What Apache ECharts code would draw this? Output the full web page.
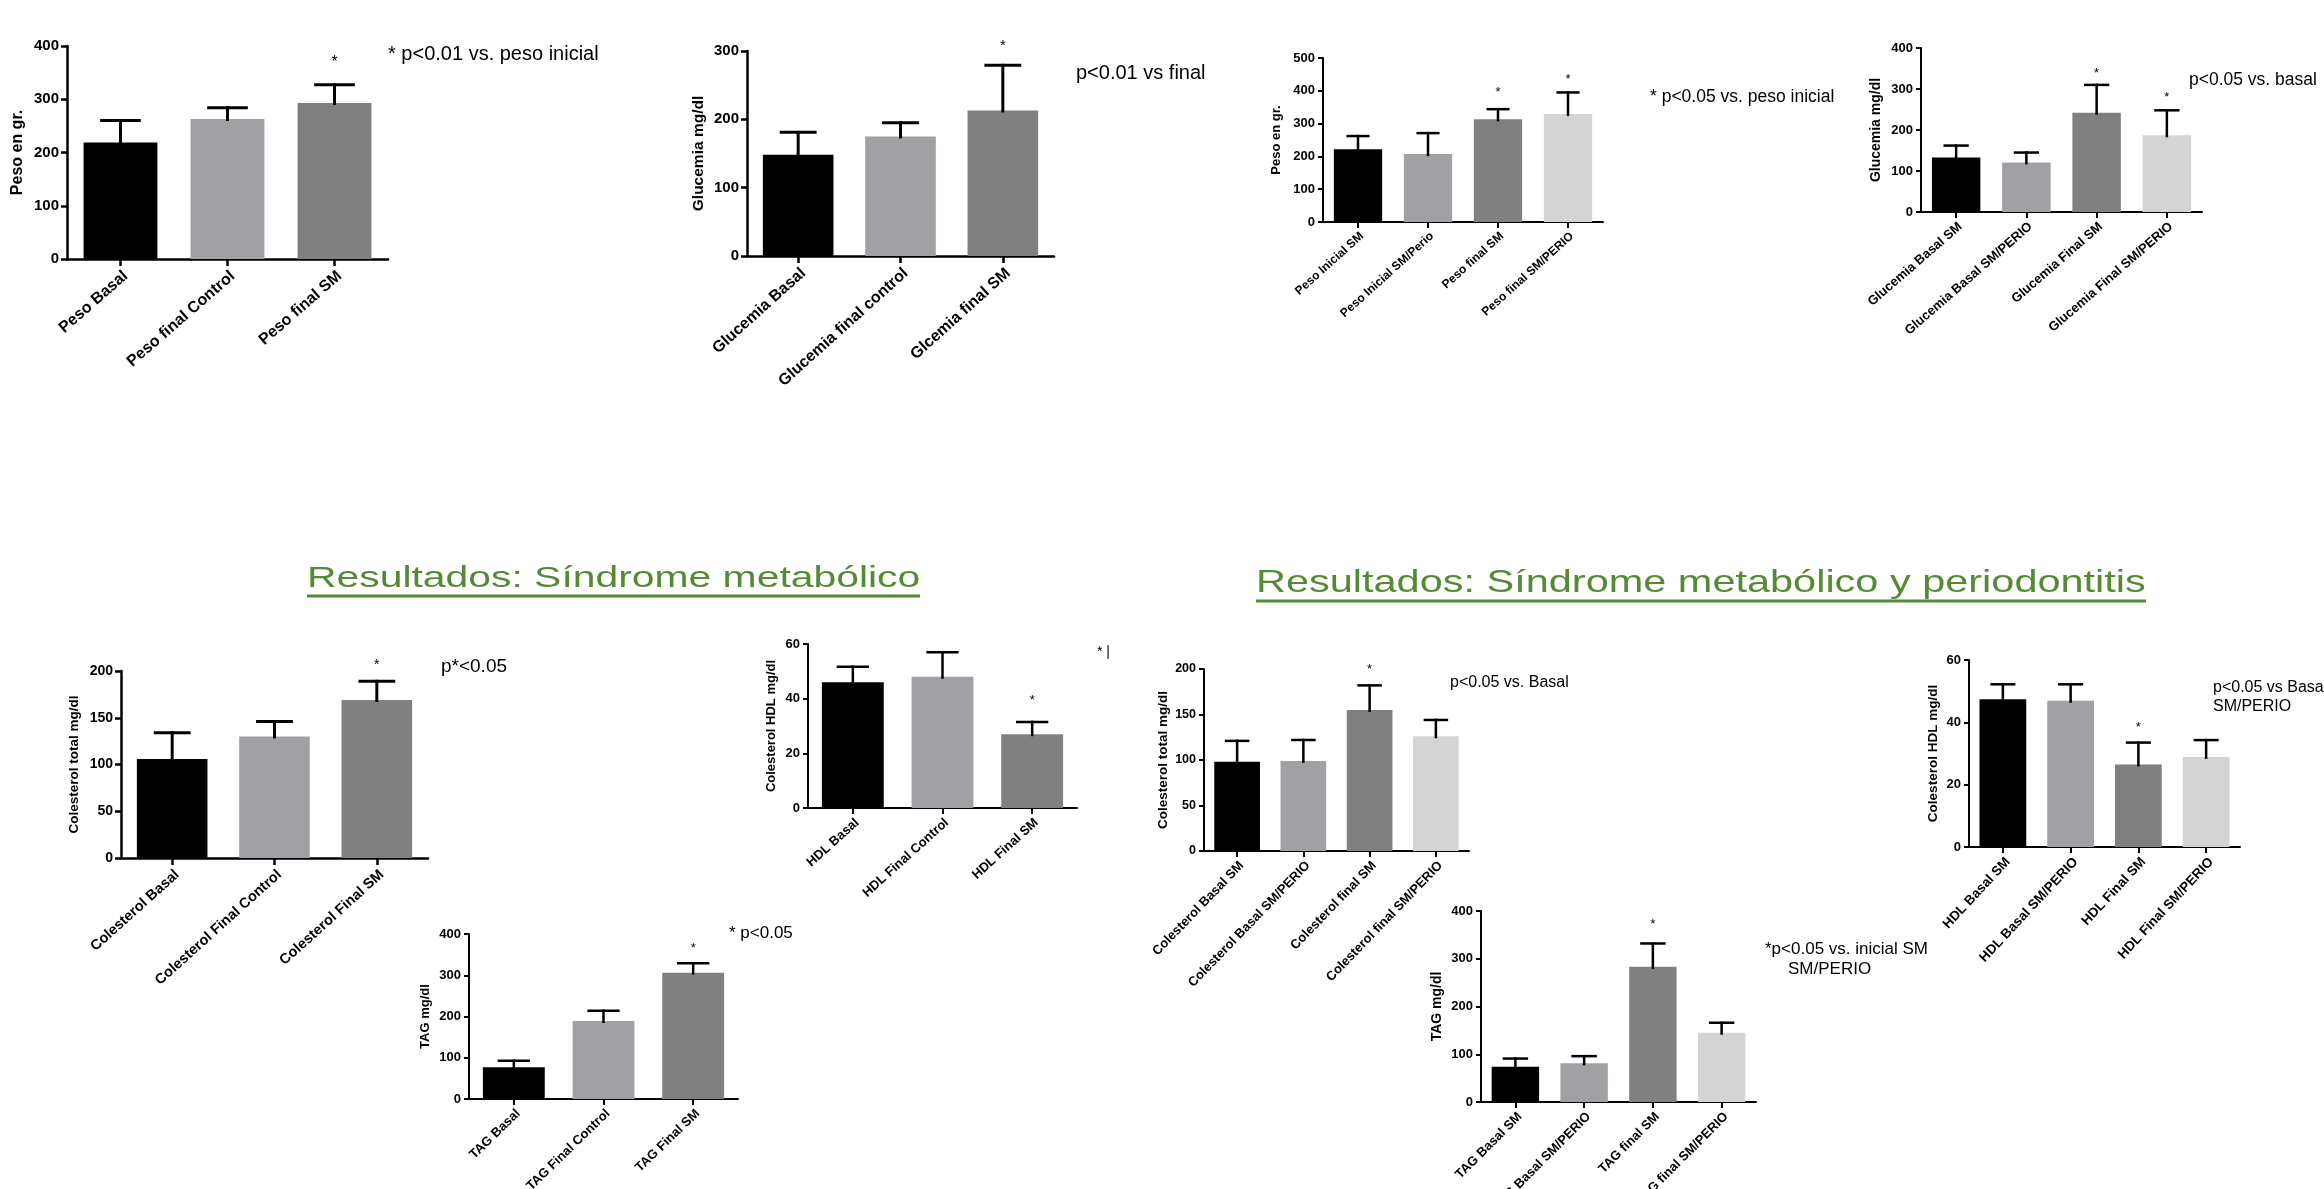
<!DOCTYPE html>
<html><head><meta charset="utf-8">
<script src="https://cdn.jsdelivr.net/npm/echarts@6/dist/echarts.min.js"></script>
<style>html,body{margin:0;padding:0;background:#fff;overflow:hidden}#c{width:2324px;height:1189px}</style>
</head><body><div id="c"></div>
<script>
// ---------- DATA ----------
const c1Categories = ['Peso Basal', 'Peso final Control', 'Peso final SM'];
const c1Means = [219, 263, 293];
const c1Errors = [41, 21, 34];
const c1Stars = [null, null, 377];
const c1Ticks = [0, 100, 200, 300, 400];
const c1YTitle = 'Peso en gr.';

const c2Categories = ['Glucemia Basal', 'Glucemia final control', 'Glcemia final SM'];
const c2Means = [148, 175, 213];
const c2Errors = [33, 20, 66];
const c2Stars = [null, null, 313];
const c2Ticks = [0, 100, 200, 300];
const c2YTitle = 'Glucemia mg/dl';

const c3Categories = ['Peso Inicial SM', 'Peso Inicial SM/Perio', 'Peso final SM', 'Peso final SM/PERIO'];
const c3Means = [222, 207, 313, 329];
const c3Errors = [40, 64, 31, 66];
const c3Stars = [null, null, 405, 444];
const c3Ticks = [0, 100, 200, 300, 400, 500];
const c3YTitle = 'Peso en gr.';

const c4Categories = ['Glucemia Basal SM', 'Glucemia Basal SM/PERIO', 'Glucemia Final SM', 'Glucemia Final SM/PERIO'];
const c4Means = [133, 121, 242, 187];
const c4Errors = [29, 24, 68, 61];
const c4Stars = [null, null, 347, 288];
const c4Ticks = [0, 100, 200, 300, 400];
const c4YTitle = 'Glucemia mg/dl';

const c5Categories = ['Colesterol Basal', 'Colesterol Final Control', 'Colesterol Final SM'];
const c5Means = [106, 130, 169];
const c5Errors = [28, 16, 20];
const c5Stars = [null, null, 210];
const c5Ticks = [0, 50, 100, 150, 200];
const c5YTitle = 'Colesterol total mg/dl';

const c6Categories = ['HDL Basal', 'HDL Final Control', 'HDL Final SM'];
const c6Means = [46, 48, 27];
const c6Errors = [5.7, 9, 4.5];
const c6Stars = [null, null, 40.4];
const c6Ticks = [0, 20, 40, 60];
const c6YTitle = 'Colesterol HDL mg/dl';

const c7Categories = ['TAG Basal', 'TAG Final Control', 'TAG Final SM'];
const c7Means = [77, 189, 306];
const c7Errors = [16, 25, 23];
const c7Stars = [null, null, 374];
const c7Ticks = [0, 100, 200, 300, 400];
const c7YTitle = 'TAG mg/dl';

const c8Categories = ['Colesterol Basal SM', 'Colesterol Basal SM/PERIO', 'Colesterol final SM', 'Colesterol final SM/PERIO'];
const c8Means = [98, 99, 155, 126];
const c8Errors = [23, 23, 27, 18];
const c8Stars = [null, null, 203, null];
const c8Ticks = [0, 50, 100, 150, 200];
const c8YTitle = 'Colesterol total mg/dl';

const c9Categories = ['HDL Basal SM', 'HDL Basal SM/PERIO', 'HDL Final SM', 'HDL Final SM/PERIO'];
const c9Means = [47.4, 46.9, 26.5, 28.9];
const c9Errors = [4.8, 5.3, 7, 5.4];
const c9Stars = [null, null, 39.3, null];
const c9Ticks = [0, 20, 40, 60];
const c9YTitle = 'Colesterol HDL mg/dl';

const c10Categories = ['TAG Basal SM', 'TAG Basal SM/PERIO', 'TAG final SM', 'TAG final SM/PERIO'];
const c10Means = [74, 81, 283, 145];
const c10Errors = [17, 15, 49, 21];
const c10Stars = [null, null, 379, null];
const c10Ticks = [0, 100, 200, 300, 400];
const c10YTitle = 'TAG mg/dl';

const titleLeft = 'Resultados: Síndrome metabólico';
const titleRight = 'Resultados: Síndrome metabólico y periodontitis';
const notes = ['* p<0.01 vs. peso inicial', 'p<0.01 vs final', '* p<0.05 vs. peso inicial', 'p<0.05 vs. basal',
  'p*<0.05', '* |', '* p<0.05', 'p<0.05 vs. Basal', 'p<0.05 vs Basal\nSM/PERIO', '*p<0.05 vs. inicial SM', 'SM/PERIO'];

// ---------- STYLE / LAYOUT ----------
const FONT = '"Liberation Sans", Arial, Helvetica, sans-serif';
const BAR_COLORS = ['#000000', '#a1a1a5', '#808080', '#d4d4d4'];
const GREEN = '#548a34';

const charts = [
  {cats: c1Categories, means: c1Means, errs: c1Errors, stars: c1Stars, ticks: c1Ticks, yTitle: c1YTitle},
  {cats: c2Categories, means: c2Means, errs: c2Errors, stars: c2Stars, ticks: c2Ticks, yTitle: c2YTitle},
  {cats: c3Categories, means: c3Means, errs: c3Errors, stars: c3Stars, ticks: c3Ticks, yTitle: c3YTitle},
  {cats: c4Categories, means: c4Means, errs: c4Errors, stars: c4Stars, ticks: c4Ticks, yTitle: c4YTitle},
  {cats: c5Categories, means: c5Means, errs: c5Errors, stars: c5Stars, ticks: c5Ticks, yTitle: c5YTitle},
  {cats: c6Categories, means: c6Means, errs: c6Errors, stars: c6Stars, ticks: c6Ticks, yTitle: c6YTitle},
  {cats: c7Categories, means: c7Means, errs: c7Errors, stars: c7Stars, ticks: c7Ticks, yTitle: c7YTitle},
  {cats: c8Categories, means: c8Means, errs: c8Errors, stars: c8Stars, ticks: c8Ticks, yTitle: c8YTitle},
  {cats: c9Categories, means: c9Means, errs: c9Errors, stars: c9Stars, ticks: c9Ticks, yTitle: c9YTitle},
  {cats: c10Categories, means: c10Means, errs: c10Errors, stars: c10Stars, ticks: c10Ticks, yTitle: c10YTitle}
];

const layout = [
  {left: 67, top: 46, width: 321, height: 213, tickFs: 15, xFs: 16, rot: 41, titleFs: 16, titleW: 'bold', nameGap: 41, axisW: 2.5, errW: 3, starFs: 16, yTick: 6, xTick: 7, cap: 0.38},
  {left: 747, top: 51, width: 307, height: 205, tickFs: 15, xFs: 16, rot: 42, titleFs: 15.5, titleW: 'bold', nameGap: 40, axisW: 2.5, errW: 3, starFs: 15, yTick: 6, xTick: 7, cap: 0.36},
  {left: 1323, top: 58, width: 280, height: 164, tickFs: 13, xFs: 12, rot: 42, titleFs: 13, titleW: 'bold', nameGap: 40, axisW: 2, errW: 2.5, starFs: 13, yTick: 5, xTick: 6, cap: 0.33},
  {left: 1921, top: 48, width: 281, height: 164, tickFs: 13, xFs: 13, rot: 41, titleFs: 14, titleW: 'bold', nameGap: 38, axisW: 2, errW: 2.5, starFs: 13, yTick: 5, xTick: 6, cap: 0.36},
  {left: 121, top: 671, width: 307, height: 187, tickFs: 14, xFs: 14.5, rot: 42, titleFs: 13.5, titleW: 'bold', nameGap: 40, axisW: 2.5, errW: 3, starFs: 14, yTick: 6, xTick: 7, cap: 0.36},
  {left: 808, top: 644, width: 269, height: 164, tickFs: 13, xFs: 13, rot: 42, titleFs: 13, titleW: 'bold', nameGap: 30, axisW: 2, errW: 2.5, starFs: 13, yTick: 5, xTick: 6, cap: 0.36},
  {left: 469, top: 934, width: 269, height: 165, tickFs: 13, xFs: 13, rot: 44, titleFs: 13, titleW: 'bold', nameGap: 37, axisW: 2, errW: 2.5, starFs: 13, yTick: 5, xTick: 6, cap: 0.36},
  {left: 1204, top: 669, width: 265, height: 182, tickFs: 12.5, xFs: 13, rot: 46, titleFs: 13.5, titleW: 'bold', nameGap: 34, axisW: 2, errW: 2.5, starFs: 13, yTick: 5, xTick: 6, cap: 0.37},
  {left: 1969, top: 660, width: 271, height: 187, tickFs: 13, xFs: 13.5, rot: 47, titleFs: 13.5, titleW: 'bold', nameGap: 29, axisW: 2, errW: 2.5, starFs: 13, yTick: 5, xTick: 6, cap: 0.37},
  {left: 1481, top: 911, width: 275, height: 191, tickFs: 13, xFs: 13, rot: 45, titleFs: 14, titleW: 'bold', nameGap: 37, axisW: 2, errW: 2.5, starFs: 13, yTick: 5, xTick: 6, cap: 0.37}
];

const notePos = [
  {x: 388, y: 54, fs: 20}, {x: 1076, y: 73, fs: 20}, {x: 1650, y: 97, fs: 17.5}, {x: 2189, y: 80, fs: 17.5},
  {x: 441, y: 667, fs: 19}, {x: 1097, y: 652, fs: 14}, {x: 729, y: 933, fs: 17}, {x: 1450, y: 683, fs: 16},
  {x: 2213, y: 697, fs: 16, lh: 19.5}, {x: 1765, y: 949, fs: 17}, {x: 1788, y: 969, fs: 17}
];

function errRender(L) {
  return function (params, api) {
    const j = api.value(0), m = api.value(1), s = api.value(2);
    const p0 = api.coord([j, m]);
    const p1 = api.coord([j, m + s]);
    const bw = api.size([1, 0])[0];
    const half = bw * L.cap / 2;
    const st = {stroke: '#000', lineWidth: L.errW};
    return {type: 'group', children: [
      {type: 'line', shape: {x1: p0[0], y1: p0[1] + 2, x2: p1[0], y2: p1[1] - L.errW / 2}, style: st},
      {type: 'line', shape: {x1: p1[0] - half, y1: p1[1], x2: p1[0] + half, y2: p1[1]}, style: st}
    ]};
  };
}
function starRender(L) {
  return function (params, api) {
    const p = api.coord([api.value(0), api.value(1)]);
    return {type: 'text', x: p[0], y: p[1] + L.starFs * 0.25,
      style: {text: '*', fontSize: L.starFs, fontFamily: FONT, fill: '#000', align: 'center', verticalAlign: 'middle', textAlign: 'center', textVerticalAlign: 'middle'}};
  };
}

const grids = [], xAxes = [], yAxes = [], series = [];
charts.forEach((c, i) => {
  const L = layout[i];
  grids.push({left: L.left, top: L.top, width: L.width, height: L.height, containLabel: false, outerBoundsMode: 'none'});
  xAxes.push({type: 'category', gridIndex: i, data: c.cats, boundaryGap: true,
    axisLine: {show: true, onZero: false, lineStyle: {color: '#000', width: L.axisW}},
    axisTick: {show: true, alignWithLabel: true, length: L.xTick, lineStyle: {color: '#000', width: L.axisW}},
    axisLabel: {show: true, interval: 0, rotate: L.rot, margin: L.xTick + 2, align: 'right', verticalAlign: 'top',
      color: '#000', fontSize: L.xFs, fontWeight: 'bold', fontFamily: FONT, hideOverlap: false},
    splitLine: {show: false}, splitArea: {show: false}});
  yAxes.push({type: 'value', gridIndex: i, min: c.ticks[0], max: c.ticks[c.ticks.length - 1], interval: c.ticks[1] - c.ticks[0],
    name: c.yTitle, nameLocation: 'middle', nameGap: L.nameGap, nameRotate: 90,
    nameTextStyle: {color: '#000', fontSize: L.titleFs, fontWeight: L.titleW, fontFamily: FONT},
    axisLine: {show: true, lineStyle: {color: '#000', width: L.axisW}},
    axisTick: {show: true, length: L.yTick, lineStyle: {color: '#000', width: L.axisW}},
    axisLabel: {show: true, margin: 8, color: '#000', fontSize: L.tickFs, fontWeight: 'bold', fontFamily: FONT},
    splitLine: {show: false}});
  series.push({type: 'bar', xAxisIndex: i, yAxisIndex: i, barWidth: '69%', silent: true, animation: false,
    data: c.means.map((v, j) => ({value: v, itemStyle: {color: BAR_COLORS[j], borderWidth: 0}}))});
  series.push({type: 'custom', xAxisIndex: i, yAxisIndex: i, silent: true, animation: false, z: 5, clip: false,
    renderItem: errRender(L), data: c.means.map((v, j) => [j, v, c.errs[j]])});
  series.push({type: 'custom', xAxisIndex: i, yAxisIndex: i, silent: true, animation: false, z: 5, clip: false,
    renderItem: starRender(L), data: c.stars.map((s, j) => s == null ? null : [j, s]).filter(d => d)});
});

const graphics = [];
graphics.push({type: 'text', x: 307, y: 578.5, scaleX: 1.362, style: {text: titleLeft, fontSize: 30, fontFamily: FONT, fill: GREEN, align: 'left', verticalAlign: 'middle', textAlign: 'left', textVerticalAlign: 'middle'}});
graphics.push({type: 'line', shape: {x1: 307, y1: 596, x2: 920, y2: 596}, style: {stroke: GREEN, lineWidth: 3}});
graphics.push({type: 'text', x: 1256, y: 583, scaleX: 1.296, style: {text: titleRight, fontSize: 32, fontFamily: FONT, fill: GREEN, align: 'left', verticalAlign: 'middle', textAlign: 'left', textVerticalAlign: 'middle'}});
graphics.push({type: 'line', shape: {x1: 1256, y1: 601, x2: 2146, y2: 601}, style: {stroke: GREEN, lineWidth: 3}});
notes.forEach((t, k) => {
  const p = notePos[k];
  graphics.push({type: 'text', x: p.x, y: p.y, style: {text: t, fontSize: p.fs, fontFamily: FONT, fill: '#000', lineHeight: p.lh || p.fs * 1.2,
    align: 'left', verticalAlign: 'middle', textAlign: 'left', textVerticalAlign: 'middle'}});
});

const chart = echarts.init(document.getElementById('c'), null, {renderer: 'canvas', width: 2324, height: 1189});
chart.setOption({
  backgroundColor: '#ffffff',
  animation: false,
  textStyle: {fontFamily: FONT},
  grid: grids, xAxis: xAxes, yAxis: yAxes, series: series,
  graphic: graphics
});
</script></body></html>
